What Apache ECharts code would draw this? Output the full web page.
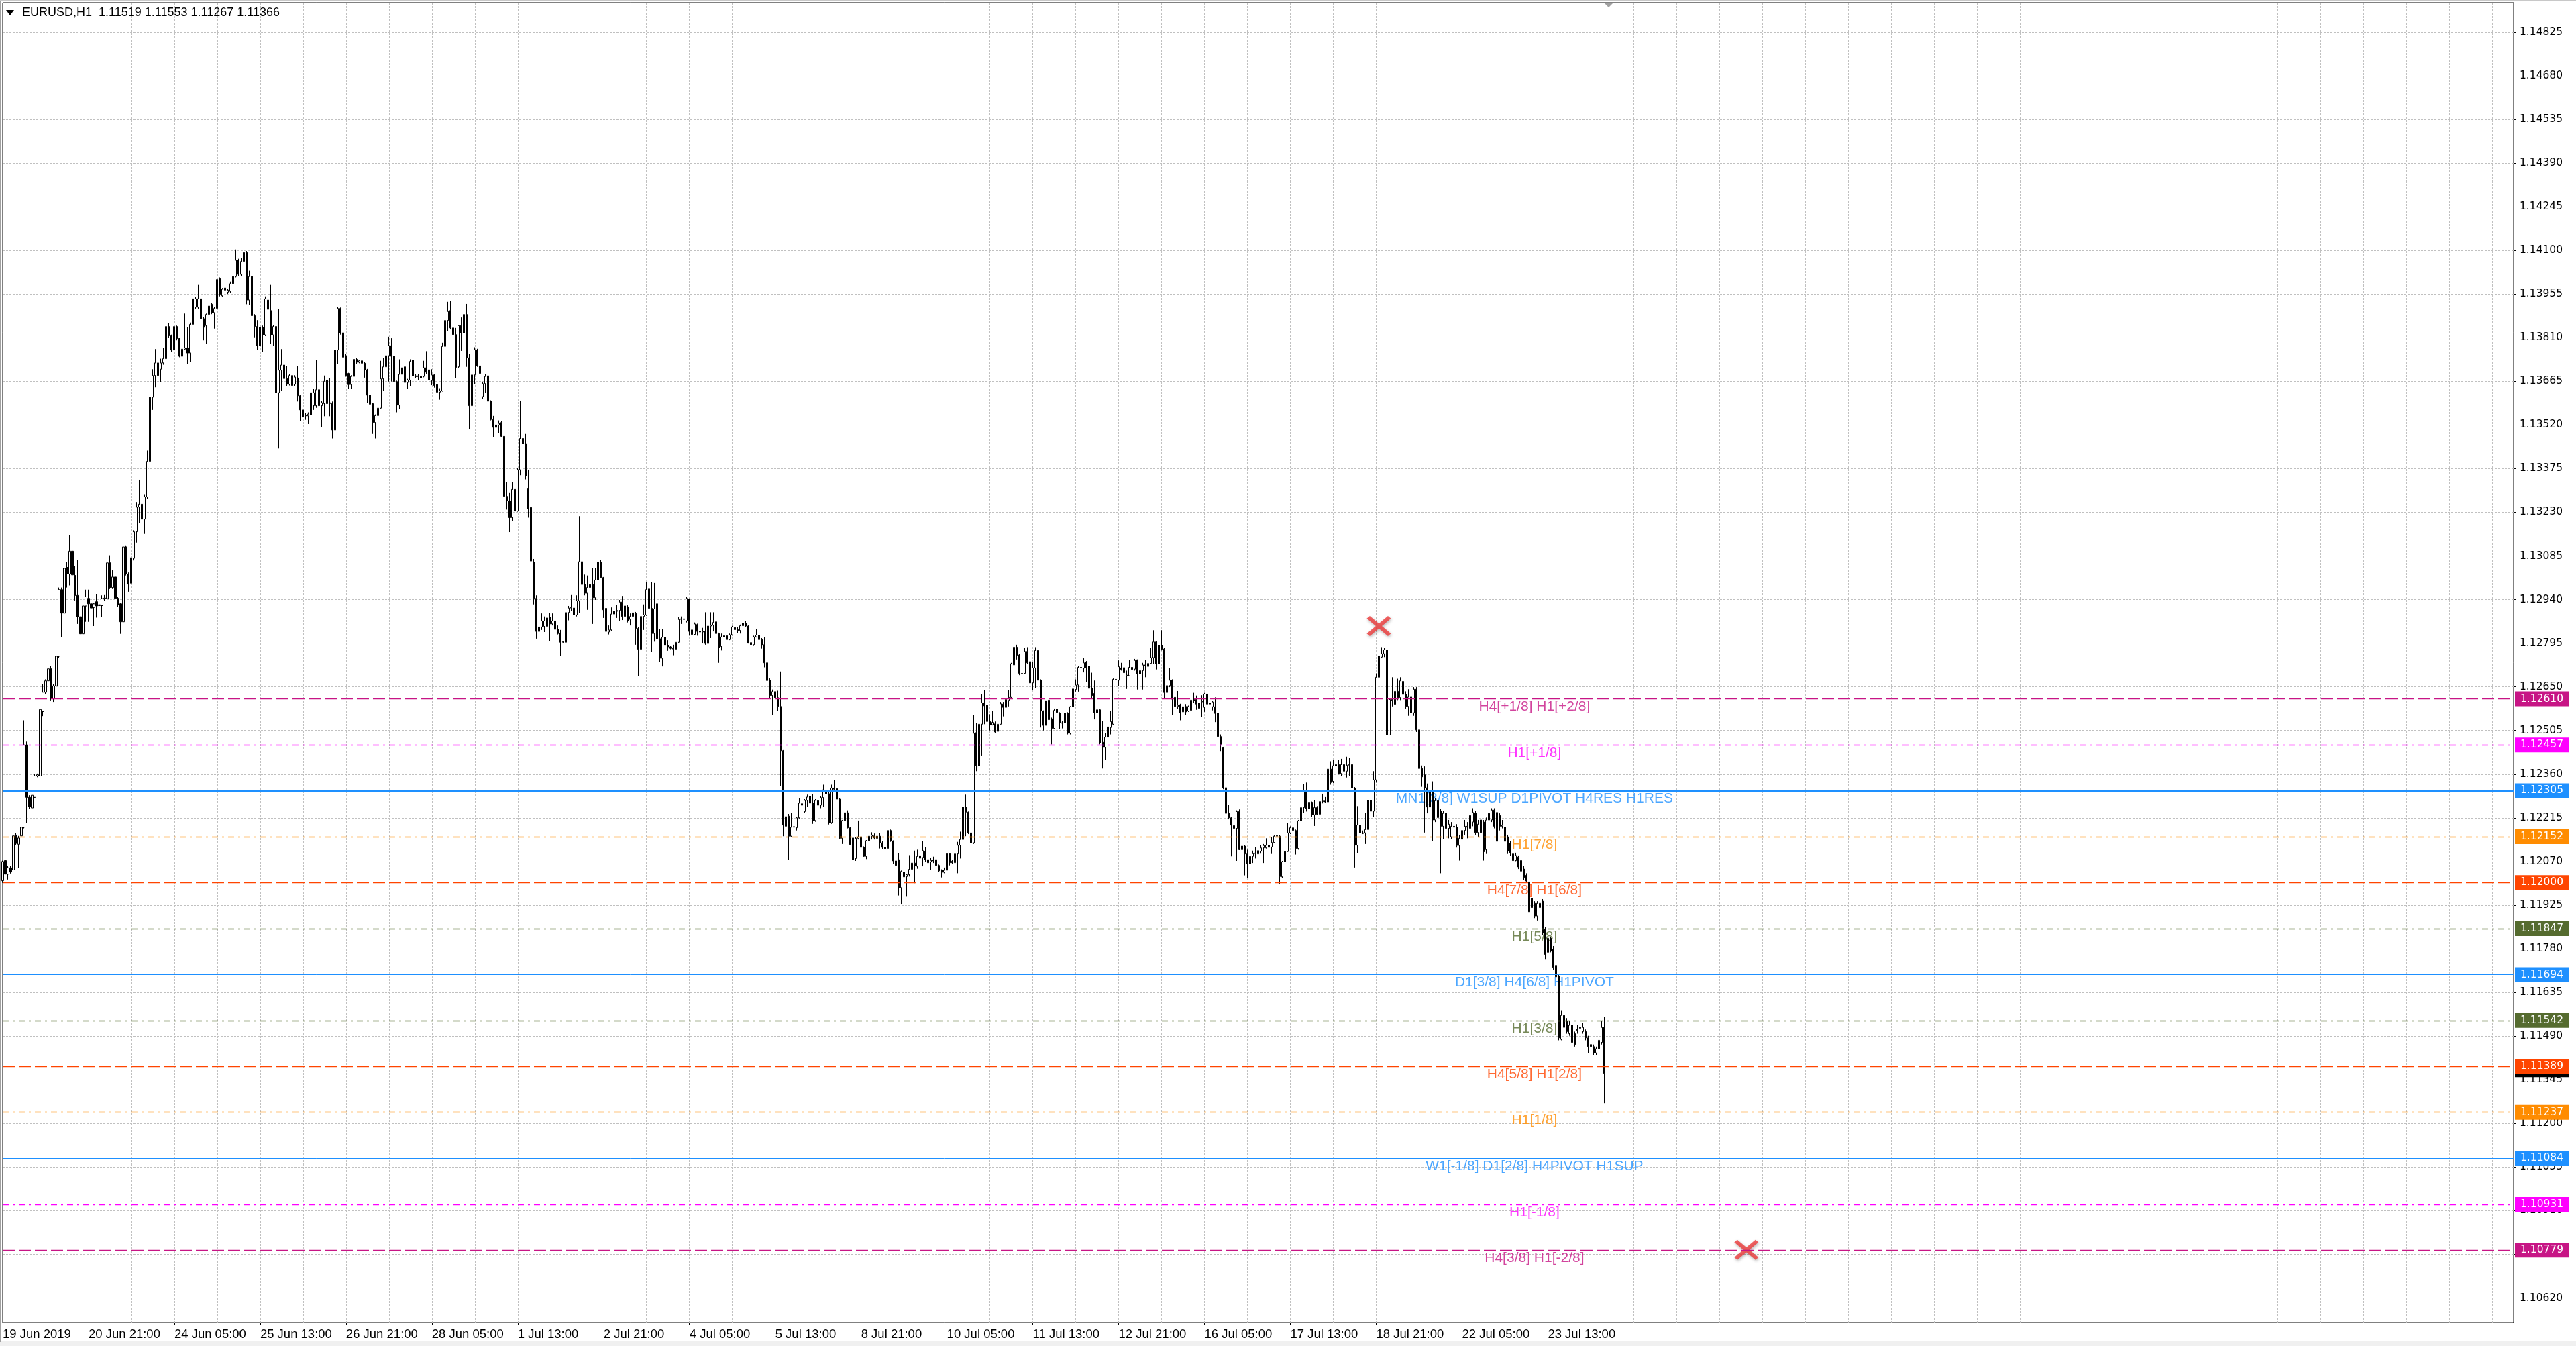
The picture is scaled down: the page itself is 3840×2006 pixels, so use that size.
<!DOCTYPE html>
<html>
<head>
<meta charset="utf-8">
<script src="https://cdn.jsdelivr.net/npm/echarts@6/dist/echarts.min.js"></script>
<style>
html,body{margin:0;padding:0;background:#ffffff;}
#c{width:3840px;height:2006px;}
</style>
</head>
<body>
<div id="c"></div>
<script>
// ---------- DATA ----------
const symbolName = 'EURUSD,H1';
const lastQuote = [1.11519, 1.11553, 1.11267, 1.11366]; // O H L C of last bar

const opens = [
1.12006,1.12073,1.12028,1.12049,1.12042,1.12158,1.12127,1.12155,1.12184,1.12457,
1.12283,1.12248,1.12283,1.12354,1.12354,1.12568,1.12632,1.12670,1.12710,1.12610,
1.12653,1.12752,1.12973,1.12895,1.13047,1.13025,1.13101,1.13020,1.12954,1.12883,
1.12826,1.12919,1.12944,1.12926,1.12914,1.12933,1.12920,1.12920,1.12943,1.12943,
1.13062,1.12980,1.13015,1.12944,1.12926,1.12866,1.13115,1.13025,1.12994,1.13077,
1.13165,1.13247,1.13257,1.13207,1.13281,1.13399,1.13612,1.13684,1.13726,1.13705,
1.13726,1.13740,1.13847,1.13816,1.13769,1.13847,1.13807,1.13748,1.13772,1.13776,
1.13759,1.13854,1.13911,1.13911,1.13939,1.13873,1.13850,1.13887,1.13921,1.13893,
1.13907,1.14006,1.13949,1.13975,1.13961,1.13964,1.13989,1.14013,1.14067,1.14020,
1.14063,1.14093,1.13935,1.14013,1.13883,1.13847,1.13783,1.13844,1.13819,1.13935,
1.13900,1.13819,1.13847,1.13627,1.13702,1.13719,1.13674,1.13655,1.13684,1.13655,
1.13676,1.13617,1.13570,1.13553,1.13550,1.13553,1.13584,1.13584,1.13637,1.13584,
1.13591,1.13669,1.13591,1.13591,1.13503,1.13769,1.13907,1.13826,1.13750,1.13691,
1.13654,1.13681,1.13738,1.13728,1.13733,1.13725,1.13703,1.13619,1.13591,1.13528,
1.13551,1.13576,1.13673,1.13713,1.13750,1.13783,1.13748,1.13664,1.13586,1.13688,
1.13713,1.13661,1.13669,1.13735,1.13683,1.13680,1.13676,1.13681,1.13710,1.13703,
1.13667,1.13686,1.13654,1.13629,1.13633,1.13781,1.13867,1.13900,1.13842,1.13820,
1.13713,1.13850,1.13825,1.13887,1.13743,1.13584,1.13686,1.13768,1.13716,1.13614,
1.13657,1.13683,1.13599,1.13538,1.13512,1.13520,1.13528,1.13482,1.13283,1.13268,
1.13212,1.13306,1.13234,1.13371,1.13475,1.13458,1.13308,1.13246,1.13065,1.12944,
1.12834,1.12849,1.12851,1.12851,1.12882,1.12859,1.12869,1.12841,1.12829,1.12798,
1.12798,1.12897,1.12912,1.12912,1.12889,1.12936,1.13066,1.12990,1.12961,1.12980,
1.12990,1.12946,1.13005,1.13065,1.13013,1.12911,1.12832,1.12839,1.12892,1.12901,
1.12904,1.12932,1.12884,1.12916,1.12874,1.12884,1.12894,1.12844,1.12775,1.12884,
1.12889,1.12975,1.12911,1.12827,1.12926,1.12810,1.12745,1.12815,1.12788,1.12783,
1.12778,1.12775,1.12798,1.12874,1.12876,1.12869,1.12942,1.12839,1.12824,1.12857,
1.12834,1.12832,1.12834,1.12794,1.12852,1.12855,1.12866,1.12827,1.12784,1.12816,
1.12820,1.12807,1.12823,1.12847,1.12840,1.12837,1.12853,1.12862,1.12852,1.12797,
1.12790,1.12816,1.12822,1.12807,1.12790,1.12730,1.12672,1.12621,1.12634,1.12614,
1.12585,1.12438,1.12187,1.12221,1.12154,1.12184,1.12182,1.12215,1.12262,1.12236,
1.12273,1.12286,1.12264,1.12206,1.12272,1.12257,1.12282,1.12306,1.12295,1.12199,
1.12314,1.12312,1.12277,1.12147,1.12206,1.12232,1.12182,1.12148,1.12080,1.12147,
1.12152,1.12117,1.12087,1.12139,1.12154,1.12155,1.12154,1.12154,1.12132,1.12117,
1.12113,1.12173,1.12138,1.12072,1.12076,1.11983,1.12035,1.12020,1.12026,1.12044,
1.12065,1.12054,1.12089,1.12083,1.12103,1.12076,1.12069,1.12074,1.12076,1.12057,
1.12041,1.12034,1.12041,1.12096,1.12071,1.12066,1.12095,1.12124,1.12143,1.12251,
1.12234,1.12165,1.12132,1.12498,1.12388,1.12526,1.12597,1.12590,1.12535,1.12524,
1.12527,1.12502,1.12526,1.12593,1.12582,1.12605,1.12615,1.12723,1.12782,1.12756,
1.12693,1.12695,1.12768,1.12734,1.12663,1.12713,1.12771,1.12672,1.12570,1.12522,
1.12606,1.12544,1.12512,1.12576,1.12563,1.12531,1.12530,1.12563,1.12496,1.12584,
1.12641,1.12656,1.12715,1.12712,1.12733,1.12719,1.12646,1.12628,1.12564,1.12574,
1.12466,1.12449,1.12483,1.12515,1.12526,1.12675,1.12672,1.12713,1.12714,1.12687,
1.12687,1.12715,1.12709,1.12740,1.12693,1.12704,1.12723,1.12718,1.12728,1.12747,
1.12799,1.12727,1.12788,1.12776,1.12631,1.12654,1.12672,1.12615,1.12585,1.12591,
1.12567,1.12585,1.12570,1.12572,1.12608,1.12608,1.12596,1.12600,1.12582,1.12626,
1.12593,1.12584,1.12584,1.12563,1.12485,1.12448,1.12315,1.12230,1.12215,1.12189,
1.12180,1.12236,1.12109,1.12121,1.12095,1.12063,1.12087,1.12096,1.12095,1.12104,
1.12115,1.12115,1.12124,1.12118,1.12133,1.12154,1.12154,1.12019,1.12069,1.12103,
1.12165,1.12173,1.12173,1.12113,1.12205,1.12249,1.12307,1.12245,1.12267,1.12225,
1.12249,1.12227,1.12269,1.12271,1.12268,1.12377,1.12336,1.12388,1.12392,1.12362,
1.12392,1.12370,1.12390,1.12392,1.12314,1.12124,1.12191,1.12165,1.12165,1.12176,
1.12273,1.12237,1.12341,1.12682,1.12749,1.12760,1.12773,1.12490,1.12608,1.12592,
1.12635,1.12614,1.12668,1.12625,1.12585,1.12616,1.12564,1.12642,1.12507,1.12379,
1.12358,1.12315,1.12251,1.12301,1.12208,1.12272,1.12237,1.12187,1.12230,1.12180,
1.12152,1.12187,1.12184,1.12123,1.12144,1.12173,1.12187,1.12180,1.12201,1.12230,
1.12166,1.12208,1.12201,1.12109,1.12208,1.12208,1.12241,1.12137,1.12223,1.12187,
1.12137,1.12152,1.12130,1.12095,1.12073,1.12085,1.12073,1.12045,1.12024,1.12002,
1.11948,1.11931,1.11889,1.11917,1.11938,1.11846,1.11768,1.11815,1.11778,1.11725,
1.11690,1.11479,1.11519,1.11540,1.11498,1.11526,1.11498,1.11512,1.11516,1.11505,
1.11505,1.11484,1.11455,1.11455,1.11434,1.11448,1.11469,1.11519
];

const highs = [
1.12073,1.12080,1.12055,1.12055,1.12162,1.12165,1.12155,1.12219,1.12539,1.12468,
1.12290,1.12295,1.12360,1.12362,1.12580,1.12660,1.12675,1.12724,1.12720,1.12660,
1.12838,1.12980,1.12980,1.13050,1.13065,1.13155,1.13158,1.13051,1.13072,1.12890,
1.12925,1.12973,1.12973,1.12976,1.12930,1.12959,1.12928,1.12954,1.12955,1.13065,
1.13087,1.13037,1.13030,1.12950,1.12930,1.13155,1.13120,1.13030,1.13085,1.13170,
1.13264,1.13338,1.13304,1.13290,1.13435,1.13620,1.13705,1.13772,1.13730,1.13740,
1.13776,1.13858,1.13858,1.13820,1.13850,1.13850,1.13810,1.13811,1.13890,1.13844,
1.13860,1.13949,1.13945,1.13985,1.13968,1.13878,1.13890,1.14003,1.13925,1.13912,
1.14039,1.14010,1.13975,1.13985,1.13972,1.13996,1.14018,1.14103,1.14072,1.14074,
1.14117,1.14098,1.14032,1.14032,1.13888,1.13868,1.13850,1.13850,1.13947,1.13975,
1.13985,1.13852,1.13852,1.13904,1.13772,1.13755,1.13716,1.13690,1.13698,1.13685,
1.13716,1.13620,1.13598,1.13560,1.13562,1.13634,1.13641,1.13736,1.13684,1.13600,
1.13684,1.13676,1.13676,1.13598,1.13819,1.13912,1.13910,1.13840,1.13755,1.13693,
1.13685,1.13766,1.13742,1.13736,1.13741,1.13728,1.13706,1.13622,1.13594,1.13555,
1.13580,1.13733,1.13743,1.13813,1.13813,1.13808,1.13751,1.13667,1.13738,1.13743,
1.13716,1.13673,1.13738,1.13738,1.13688,1.13688,1.13693,1.13733,1.13765,1.13723,
1.13705,1.13690,1.13667,1.13642,1.13793,1.13925,1.13929,1.13932,1.13882,1.13842,
1.13852,1.13877,1.13894,1.13922,1.13756,1.13690,1.13778,1.13773,1.13719,1.13661,
1.13688,1.13708,1.13602,1.13550,1.13532,1.13535,1.13533,1.13490,1.13331,1.13296,
1.13331,1.13341,1.13376,1.13601,1.13561,1.13490,1.13371,1.13251,1.13075,1.12954,
1.12874,1.12894,1.12884,1.12894,1.12896,1.12894,1.12879,1.12854,1.12839,1.12802,
1.12899,1.12919,1.12955,1.12993,1.12954,1.13217,1.13110,1.13023,1.13020,1.13030,
1.13045,1.13045,1.13120,1.13071,1.13015,1.12968,1.12854,1.12914,1.12919,1.12922,
1.12939,1.12952,1.12922,1.12921,1.12894,1.12904,1.12899,1.12849,1.12886,1.12924,
1.12998,1.12998,1.12998,1.12995,1.13123,1.12842,1.12842,1.12849,1.12805,1.12785,
1.12790,1.12800,1.12881,1.12884,1.12884,1.12949,1.12944,1.12844,1.12864,1.12860,
1.12849,1.12846,1.12898,1.12857,1.12898,1.12898,1.12886,1.12830,1.12827,1.12842,
1.12846,1.12827,1.12853,1.12853,1.12849,1.12857,1.12875,1.12869,1.12854,1.12842,
1.12820,1.12842,1.12825,1.12812,1.12816,1.12753,1.12678,1.12641,1.12678,1.12637,
1.12701,1.12440,1.12252,1.12228,1.12232,1.12195,1.12219,1.12280,1.12279,1.12277,
1.12292,1.12288,1.12294,1.12277,1.12280,1.12288,1.12325,1.12312,1.12306,1.12325,
1.12340,1.12321,1.12280,1.12208,1.12245,1.12240,1.12185,1.12187,1.12150,1.12206,
1.12167,1.12120,1.12141,1.12175,1.12167,1.12163,1.12184,1.12165,1.12138,1.12135,
1.12180,1.12176,1.12140,1.12075,1.12098,1.12040,1.12089,1.12029,1.12091,1.12096,
1.12106,1.12109,1.12106,1.12138,1.12118,1.12080,1.12083,1.12086,1.12087,1.12060,
1.12044,1.12050,1.12098,1.12098,1.12076,1.12098,1.12135,1.12169,1.12269,1.12292,
1.12236,1.12167,1.12556,1.12530,1.12570,1.12626,1.12639,1.12600,1.12559,1.12570,
1.12535,1.12567,1.12600,1.12600,1.12651,1.12639,1.12730,1.12805,1.12790,1.12760,
1.12712,1.12780,1.12782,1.12736,1.12734,1.12782,1.12857,1.12675,1.12572,1.12622,
1.12610,1.12548,1.12578,1.12609,1.12566,1.12536,1.12585,1.12566,1.12586,1.12645,
1.12675,1.12719,1.12734,1.12745,1.12736,1.12745,1.12697,1.12671,1.12596,1.12577,
1.12537,1.12496,1.12522,1.12570,1.12678,1.12697,1.12738,1.12730,1.12719,1.12704,
1.12740,1.12723,1.12743,1.12741,1.12719,1.12730,1.12740,1.12741,1.12779,1.12838,
1.12801,1.12812,1.12838,1.12779,1.12733,1.12712,1.12675,1.12618,1.12636,1.12594,
1.12587,1.12593,1.12588,1.12615,1.12630,1.12621,1.12630,1.12622,1.12630,1.12632,
1.12604,1.12604,1.12615,1.12566,1.12492,1.12451,1.12325,1.12258,1.12217,1.12228,
1.12240,1.12243,1.12139,1.12124,1.12109,1.12121,1.12106,1.12117,1.12108,1.12124,
1.12128,1.12147,1.12135,1.12150,1.12158,1.12170,1.12158,1.12072,1.12109,1.12199,
1.12187,1.12217,1.12176,1.12208,1.12269,1.12327,1.12332,1.12275,1.12269,1.12273,
1.12254,1.12288,1.12295,1.12284,1.12385,1.12403,1.12407,1.12414,1.12407,1.12411,
1.12438,1.12418,1.12414,1.12396,1.12317,1.12254,1.12247,1.12173,1.12232,1.12293,
1.12279,1.12370,1.12695,1.12801,1.12782,1.12779,1.12817,1.12611,1.12682,1.12649,
1.12677,1.12682,1.12673,1.12635,1.12642,1.12628,1.12649,1.12649,1.12514,1.12389,
1.12386,1.12329,1.12329,1.12336,1.12280,1.12280,1.12244,1.12237,1.12237,1.12208,
1.12201,1.12198,1.12194,1.12159,1.12180,1.12208,1.12201,1.12237,1.12247,1.12237,
1.12208,1.12216,1.12208,1.12216,1.12237,1.12247,1.12247,1.12244,1.12230,1.12208,
1.12194,1.12159,1.12137,1.12102,1.12099,1.12090,1.12080,1.12056,1.12031,1.12005,
1.11960,1.11938,1.11938,1.11953,1.11945,1.11853,1.11825,1.11820,1.11789,1.11732,
1.11697,1.11576,1.11573,1.11550,1.11540,1.11536,1.11505,1.11526,1.11547,1.11533,
1.11512,1.11491,1.11476,1.11462,1.11455,1.11484,1.11540,1.11553
];

const lows = [
1.11999,1.12020,1.12010,1.12030,1.12006,1.12125,1.12049,1.12150,1.12180,1.12198,
1.12245,1.12245,1.12280,1.12350,1.12350,1.12553,1.12625,1.12665,1.12605,1.12600,
1.12650,1.12745,1.12816,1.12859,1.12980,1.12987,1.12937,1.12937,1.12859,1.12703,
1.12812,1.12866,1.12866,1.12887,1.12852,1.12880,1.12910,1.12883,1.12935,1.12920,
1.12975,1.12975,1.12923,1.12915,1.12826,1.12845,1.13020,1.12966,1.12966,1.13070,
1.13129,1.13193,1.13082,1.13158,1.13275,1.13392,1.13570,1.13645,1.13662,1.13662,
1.13720,1.13705,1.13810,1.13762,1.13748,1.13801,1.13745,1.13745,1.13769,1.13722,
1.13730,1.13836,1.13905,1.13904,1.13811,1.13801,1.13790,1.13850,1.13888,1.13840,
1.13900,1.13947,1.13945,1.13958,1.13955,1.13958,1.13985,1.14010,1.14015,1.14015,
1.14053,1.13921,1.13918,1.13878,1.13811,1.13769,1.13776,1.13762,1.13815,1.13890,
1.13790,1.13783,1.13598,1.13442,1.13634,1.13615,1.13650,1.13651,1.13598,1.13650,
1.13598,1.13534,1.13527,1.13537,1.13523,1.13549,1.13570,1.13577,1.13541,1.13513,
1.13549,1.13584,1.13549,1.13475,1.13498,1.13722,1.13820,1.13740,1.13680,1.13641,
1.13641,1.13679,1.13723,1.13725,1.13686,1.13677,1.13594,1.13586,1.13490,1.13475,
1.13503,1.13572,1.13634,1.13664,1.13664,1.13664,1.13639,1.13562,1.13572,1.13619,
1.13629,1.13639,1.13649,1.13664,1.13676,1.13668,1.13673,1.13678,1.13690,1.13654,
1.13652,1.13644,1.13627,1.13604,1.13631,1.13780,1.13832,1.13837,1.13813,1.13675,
1.13710,1.13766,1.13756,1.13713,1.13505,1.13554,1.13656,1.13713,1.13664,1.13606,
1.13627,1.13597,1.13535,1.13480,1.13508,1.13492,1.13480,1.13215,1.13239,1.13164,
1.13202,1.13207,1.13232,1.13353,1.13440,1.13339,1.13212,1.13038,1.12924,1.12810,
1.12823,1.12839,1.12832,1.12849,1.12802,1.12854,1.12837,1.12824,1.12753,1.12795,
1.12778,1.12871,1.12902,1.12857,1.12884,1.12896,1.12966,1.12954,1.12906,1.12973,
1.12859,1.12939,1.13003,1.13011,1.12879,1.12823,1.12824,1.12836,1.12890,1.12879,
1.12869,1.12872,1.12866,1.12864,1.12854,1.12846,1.12790,1.12686,1.12767,1.12839,
1.12886,1.12879,1.12767,1.12800,1.12805,1.12733,1.12718,1.12780,1.12770,1.12775,
1.12755,1.12773,1.12795,1.12859,1.12846,1.12864,1.12820,1.12822,1.12822,1.12820,
1.12808,1.12794,1.12790,1.12768,1.12812,1.12834,1.12823,1.12730,1.12771,1.12790,
1.12805,1.12805,1.12820,1.12837,1.12829,1.12827,1.12851,1.12850,1.12794,1.12777,
1.12786,1.12814,1.12805,1.12777,1.12715,1.12667,1.12611,1.12556,1.12588,1.12570,
1.12321,1.12154,1.12072,1.12076,1.12152,1.12165,1.12173,1.12213,1.12254,1.12232,
1.12251,1.12262,1.12195,1.12202,1.12232,1.12247,1.12251,1.12292,1.12193,1.12195,
1.12306,1.12254,1.12145,1.12128,1.12124,1.12180,1.12124,1.12069,1.12072,1.12143,
1.12115,1.12086,1.12078,1.12137,1.12143,1.12143,1.12128,1.12113,1.12111,1.12106,
1.12104,1.12135,1.12061,1.12048,1.11957,1.11927,1.11998,1.11953,1.12020,1.12005,
1.11998,1.12046,1.11996,1.12054,1.12069,1.12029,1.12041,1.12065,1.12054,1.12036,
1.12017,1.12031,1.12020,1.12057,1.12061,1.12063,1.12031,1.12080,1.12141,1.12154,
1.12161,1.12117,1.12128,1.12370,1.12353,1.12422,1.12526,1.12522,1.12505,1.12522,
1.12496,1.12496,1.12525,1.12552,1.12578,1.12585,1.12612,1.12719,1.12741,1.12689,
1.12667,1.12693,1.12727,1.12661,1.12639,1.12645,1.12619,1.12515,1.12505,1.12511,
1.12451,1.12459,1.12511,1.12563,1.12511,1.12512,1.12526,1.12492,1.12492,1.12578,
1.12634,1.12634,1.12704,1.12698,1.12666,1.12615,1.12611,1.12542,1.12533,1.12459,
1.12379,1.12407,1.12437,1.12492,1.12524,1.12634,1.12652,1.12704,1.12675,1.12643,
1.12686,1.12682,1.12704,1.12641,1.12691,1.12641,1.12682,1.12698,1.12727,1.12727,
1.12708,1.12686,1.12771,1.12611,1.12622,1.12649,1.12556,1.12530,1.12576,1.12539,
1.12557,1.12556,1.12567,1.12570,1.12596,1.12574,1.12570,1.12550,1.12567,1.12585,
1.12582,1.12572,1.12533,1.12448,1.12437,1.12310,1.12173,1.12210,1.12087,1.12143,
1.12072,1.12108,1.12095,1.12024,1.12016,1.12039,1.12065,1.12080,1.12093,1.12096,
1.12065,1.12113,1.12076,1.12095,1.12130,1.12148,1.11994,1.12016,1.12063,1.12102,
1.12161,1.12169,1.12093,1.12109,1.12203,1.12232,1.12236,1.12225,1.12217,1.12188,
1.12224,1.12225,1.12263,1.12264,1.12252,1.12325,1.12330,1.12362,1.12359,1.12355,
1.12332,1.12349,1.12355,1.12310,1.12050,1.12098,1.12117,1.12161,1.12128,1.12154,
1.12225,1.12217,1.12332,1.12641,1.12745,1.12749,1.12399,1.12489,1.12585,1.12585,
1.12606,1.12606,1.12585,1.12578,1.12554,1.12554,1.12554,1.12500,1.12343,1.12318,
1.12166,1.12230,1.12201,1.12137,1.12201,1.12194,1.12031,1.12144,1.12130,1.12147,
1.12144,1.12152,1.12116,1.12073,1.12130,1.12159,1.12147,1.12159,1.12187,1.12159,
1.12152,1.12152,1.12073,1.12095,1.12187,1.12201,1.12180,1.12130,1.12173,1.12180,
1.12130,1.12095,1.12088,1.12066,1.12071,1.12045,1.12031,1.12009,1.11999,1.11896,
1.11910,1.11882,1.11874,1.11910,1.11825,1.11746,1.11761,1.11768,1.11711,1.11678,
1.11476,1.11476,1.11512,1.11498,1.11491,1.11462,1.11455,1.11498,1.11505,1.11498,
1.11476,1.11434,1.11448,1.11427,1.11427,1.11405,1.11462,1.11267
];

const closes = [
1.12070,1.12028,1.12049,1.12035,1.12155,1.12130,1.12148,1.12184,1.12457,1.12283,
1.12252,1.12290,1.12354,1.12358,1.12575,1.12632,1.12670,1.12710,1.12613,1.12653,
1.12752,1.12973,1.12895,1.13044,1.13025,1.13101,1.13022,1.12954,1.12883,1.12826,
1.12919,1.12949,1.12926,1.12912,1.12926,1.12919,1.12923,1.12943,1.12945,1.13062,
1.12980,1.13015,1.12944,1.12923,1.12866,1.13115,1.13025,1.12991,1.13079,1.13165,
1.13247,1.13257,1.13207,1.13281,1.13399,1.13612,1.13684,1.13726,1.13684,1.13726,
1.13740,1.13847,1.13816,1.13769,1.13847,1.13807,1.13748,1.13772,1.13776,1.13759,
1.13854,1.13939,1.13939,1.13939,1.13873,1.13844,1.13887,1.13915,1.13893,1.13907,
1.14003,1.13954,1.13971,1.13968,1.13968,1.13989,1.14013,1.14067,1.14020,1.14063,
1.14093,1.13935,1.14013,1.13883,1.13847,1.13783,1.13844,1.13819,1.13939,1.13904,
1.13819,1.13847,1.13627,1.13702,1.13719,1.13674,1.13655,1.13684,1.13651,1.13679,
1.13617,1.13570,1.13546,1.13550,1.13556,1.13627,1.13627,1.13637,1.13584,1.13594,
1.13665,1.13591,1.13594,1.13503,1.13769,1.13907,1.13826,1.13745,1.13684,1.13654,
1.13681,1.13738,1.13728,1.13733,1.13725,1.13703,1.13619,1.13589,1.13528,1.13551,
1.13576,1.13673,1.13713,1.13750,1.13783,1.13748,1.13664,1.13586,1.13688,1.13710,
1.13661,1.13669,1.13731,1.13683,1.13680,1.13683,1.13681,1.13710,1.13695,1.13669,
1.13686,1.13651,1.13629,1.13633,1.13781,1.13867,1.13897,1.13842,1.13820,1.13711,
1.13850,1.13825,1.13887,1.13743,1.13584,1.13686,1.13770,1.13716,1.13691,1.13657,
1.13681,1.13599,1.13538,1.13512,1.13520,1.13525,1.13482,1.13283,1.13268,1.13212,
1.13306,1.13234,1.13371,1.13475,1.13458,1.13351,1.13241,1.13068,1.12944,1.12834,
1.12849,1.12869,1.12869,1.12879,1.12859,1.12869,1.12841,1.12827,1.12798,1.12800,
1.12897,1.12912,1.12914,1.12889,1.12936,1.13066,1.12990,1.12961,1.12980,1.12990,
1.12946,1.13005,1.13065,1.13013,1.12906,1.12834,1.12839,1.12892,1.12901,1.12904,
1.12932,1.12884,1.12919,1.12869,1.12884,1.12896,1.12844,1.12775,1.12884,1.12889,
1.12973,1.12911,1.12827,1.12909,1.12810,1.12745,1.12815,1.12788,1.12783,1.12778,
1.12776,1.12798,1.12874,1.12876,1.12874,1.12944,1.12834,1.12824,1.12859,1.12834,
1.12832,1.12834,1.12794,1.12852,1.12855,1.12864,1.12827,1.12780,1.12816,1.12820,
1.12807,1.12823,1.12849,1.12840,1.12837,1.12853,1.12862,1.12852,1.12795,1.12790,
1.12816,1.12822,1.12807,1.12788,1.12730,1.12671,1.12621,1.12634,1.12614,1.12585,
1.12438,1.12191,1.12219,1.12154,1.12184,1.12186,1.12215,1.12264,1.12257,1.12273,
1.12284,1.12264,1.12205,1.12273,1.12257,1.12282,1.12308,1.12295,1.12199,1.12314,
1.12310,1.12277,1.12147,1.12206,1.12232,1.12182,1.12126,1.12076,1.12147,1.12152,
1.12117,1.12087,1.12139,1.12154,1.12158,1.12148,1.12147,1.12132,1.12117,1.12111,
1.12173,1.12138,1.12072,1.12057,1.11983,1.12037,1.12019,1.12026,1.12044,1.12065,
1.12056,1.12087,1.12081,1.12106,1.12076,1.12066,1.12074,1.12072,1.12057,1.12039,
1.12034,1.12041,1.12096,1.12066,1.12066,1.12095,1.12124,1.12143,1.12251,1.12234,
1.12165,1.12132,1.12496,1.12388,1.12526,1.12597,1.12587,1.12535,1.12524,1.12532,
1.12500,1.12526,1.12594,1.12582,1.12608,1.12615,1.12727,1.12782,1.12755,1.12695,
1.12695,1.12768,1.12730,1.12663,1.12713,1.12771,1.12672,1.12570,1.12522,1.12604,
1.12541,1.12512,1.12572,1.12565,1.12531,1.12529,1.12563,1.12496,1.12584,1.12643,
1.12656,1.12715,1.12714,1.12730,1.12713,1.12645,1.12621,1.12564,1.12574,1.12464,
1.12449,1.12483,1.12517,1.12535,1.12675,1.12673,1.12717,1.12708,1.12697,1.12689,
1.12715,1.12708,1.12738,1.12693,1.12704,1.12723,1.12721,1.12728,1.12747,1.12799,
1.12727,1.12788,1.12775,1.12631,1.12654,1.12672,1.12609,1.12585,1.12589,1.12564,
1.12584,1.12567,1.12585,1.12606,1.12604,1.12593,1.12579,1.12602,1.12626,1.12593,
1.12596,1.12600,1.12562,1.12485,1.12459,1.12314,1.12230,1.12215,1.12191,1.12180,
1.12236,1.12109,1.12121,1.12095,1.12063,1.12087,1.12096,1.12098,1.12106,1.12115,
1.12123,1.12124,1.12117,1.12133,1.12154,1.12156,1.12020,1.12069,1.12103,1.12165,
1.12182,1.12182,1.12113,1.12205,1.12249,1.12304,1.12245,1.12267,1.12225,1.12249,
1.12227,1.12269,1.12271,1.12268,1.12377,1.12332,1.12388,1.12392,1.12362,1.12392,
1.12370,1.12390,1.12392,1.12314,1.12124,1.12191,1.12165,1.12163,1.12176,1.12273,
1.12237,1.12341,1.12682,1.12753,1.12760,1.12773,1.12490,1.12608,1.12605,1.12635,
1.12614,1.12670,1.12625,1.12585,1.12616,1.12564,1.12642,1.12507,1.12379,1.12351,
1.12315,1.12251,1.12301,1.12208,1.12272,1.12216,1.12187,1.12230,1.12180,1.12194,
1.12187,1.12184,1.12123,1.12147,1.12173,1.12187,1.12184,1.12223,1.12233,1.12166,
1.12194,1.12166,1.12102,1.12208,1.12230,1.12241,1.12187,1.12233,1.12187,1.12190,
1.12184,1.12105,1.12099,1.12073,1.12090,1.12052,1.12038,1.12017,1.12005,1.11903,
1.11917,1.11889,1.11931,1.11931,1.11832,1.11761,1.11815,1.11772,1.11718,1.11687,
1.11484,1.11559,1.11559,1.11505,1.11526,1.11469,1.11462,1.11509,1.11519,1.11519,
1.11484,1.11455,1.11462,1.11434,1.11448,1.11476,1.11519,1.11366
];

// price axis tick labels
const priceTicks = [
1.10620,1.10765,1.10910,1.11055,1.11200,1.11345,1.11490,1.11635,1.11780,1.11925,
1.12070,1.12215,1.12360,1.12505,1.12650,1.12795,1.12940,1.13085,1.13230,1.13375,
1.13520,1.13665,1.13810,1.13955,1.14100,1.14245,1.14390,1.14535,1.14680,1.14825
];

// level lines (top to bottom)
const levelPrices = [1.12610,1.12457,1.12305,1.12152,1.12000,1.11847,1.11694,1.11542,1.11389,1.11237,1.11084,1.10931,1.10779];
const levelTexts = [
'H4[+1/8] H1[+2/8]','H1[+1/8]','MN1[3/8] W1SUP D1PIVOT H4RES H1RES','H1[7/8]','H4[7/8] H1[6/8]',
'H1[5/8]','D1[3/8] H4[6/8] H1PIVOT','H1[3/8]','H4[5/8] H1[2/8]','H1[1/8]',
'W1[-1/8] D1[2/8] H4PIVOT H1SUP','H1[-1/8]','H4[3/8] H1[-2/8]'
];
const levelColors = ['#C71585','#FF00FF','#1E90FF','#FF8C00','#FF4500','#556B2F','#1E90FF','#556B2F','#FF4500','#FF8C00','#1E90FF','#FF00FF','#C71585'];
const levelStyles = ['dash','dashdot','solid','dashdot','dash','dashdot','solid','dashdot','dash','dashdot','solid','dashdot','dash'];
const levelWidths = [1.3,1.3,2,1.3,1.3,1.3,1,1.3,1.3,1.3,1,1.3,1.3];

const bidPrice = 1.11366;
const crossBars = [513, 650];
const crossPrices = [1.12852, 1.10780];

// ---------- VIEW SETTINGS ----------
const totalSlots = 937;       // visible bar slots incl. chart shift
const labelBar = 571;         // bar slot where level captions are centred
const yMin = 1.105386, yMax = 1.149226;

// hourly bar times (weekdays only) starting 19 Jun 2019 13:00
const MON = ['Jan','Feb','Mar','Apr','May','Jun','Jul','Aug','Sep','Oct','Nov','Dec'];
const times = [];
(function(){
  let t = Date.UTC(2019, 5, 19, 13);
  while (times.length < totalSlots) {
    const d = new Date(t);
    const wd = d.getUTCDay();
    if (wd !== 0 && wd !== 6) {
      const hh = String(d.getUTCHours()).padStart(2,'0');
      times.push(d.getUTCDate() + ' ' + MON[d.getUTCMonth()] + ' ' + d.getUTCFullYear() + ' ' + hh + ':00');
    }
    t += 3600000;
  }
})();

const nBars = opens.length;
const candleData = opens.map((o, i) => [o, closes[i], lows[i], highs[i]]);
const dashMap = { dash: [18, 6], dashdot: [9, 6, 3, 6], solid: 'solid' };
const labelEvery = (i) => i % 32 === 0 && i < nBars;

const markData = [{
  yAxis: bidPrice,
  lineStyle: { color: '#C0C0C0', type: 'solid', width: 1 },
  label: { show: true, position: 'end', distance: 2, formatter: ' ', fontSize: 1, lineHeight: 1,
           backgroundColor: '#000000', padding: [2, 40, 2, 40], offset: [0, 3] }
}].concat(levelPrices.map((p, k) => ({
  yAxis: p,
  lineStyle: { color: levelColors[k], type: dashMap[levelStyles[k]], width: levelWidths[k] },
  label: { show: true, position: 'end', distance: 2, formatter: p.toFixed(5), color: '#ffffff',
           backgroundColor: levelColors[k], padding: [3, 8, 3, 8], fontFamily: 'DejaVu Sans',
           fontSize: 15.5, lineHeight: 16 }
})));

const headerText = symbolName + '  ' + lastQuote.map(v => v.toFixed(5)).join(' ');

const chart = echarts.init(document.getElementById('c'), null, { renderer: 'canvas', width: 3840, height: 2006 });
chart.setOption({
  animation: false,
  backgroundColor: '#ffffff',
  grid: { left: 4, right: 93, top: 4, bottom: 35, show: true, borderColor: '#000000', borderWidth: 1,
          backgroundColor: 'transparent', containLabel: false, outerBoundsMode: 'none' },
  xAxis: {
    type: 'category', data: times, boundaryGap: false,
    axisLine: { show: true, lineStyle: { color: '#000000', width: 1 } },
    axisTick: { show: true, interval: labelEvery, length: 4, lineStyle: { color: '#000000' } },
    axisLabel: {
      show: true, interval: labelEvery, align: 'left', margin: 8, color: '#000000',
      fontFamily: 'Liberation Sans', fontSize: 18.5,
      formatter: (v, i) => { const p = v.split(' '); return i === 0 ? p[0] + ' ' + p[1] + ' ' + p[2] : p[0] + ' ' + p[1] + ' ' + p[3]; }
    },
    splitLine: { show: true, interval: (i) => i % 16 === 0, lineStyle: { color: '#C0C0C0', type: [3, 2], width: 1 } }
  },
  yAxis: {
    type: 'value', position: 'right', min: yMin, max: yMax,
    axisLine: { show: true, lineStyle: { color: '#000000', width: 1 } },
    axisTick: { show: true, length: 4, customValues: priceTicks, lineStyle: { color: '#000000' } },
    axisLabel: { show: true, customValues: priceTicks, formatter: (v) => v.toFixed(5), color: '#000000',
                 fontFamily: 'DejaVu Sans', fontSize: 15.5, margin: 9 },
    splitLine: { show: true, lineStyle: { color: '#C0C0C0', type: [3, 2], width: 1 } }
  },
  series: [
    {
      type: 'line', data: [], z: 1, silent: true,
      markLine: { silent: true, precision: 5, symbol: ['none', 'none'], animation: false, data: markData }
    },
    {
      type: 'scatter', z: 2, silent: true, symbolSize: 1, itemStyle: { color: 'rgba(0,0,0,0)' },
      label: { show: true, position: 'inside', offset: [0, 12], fontFamily: 'Liberation Sans', fontSize: 21 },
      data: levelPrices.map((p, k) => ({ value: [labelBar, p], label: { formatter: levelTexts[k], color: levelColors[k] } }))
    },
    {
      type: 'candlestick', z: 3, data: candleData, barWidth: 2.6, silent: true,
      itemStyle: { color: '#ffffff', color0: '#000000', borderColor: '#000000', borderColor0: '#000000',
                   borderColorDoji: '#000000', borderWidth: 1 }
    },
    {
      type: 'scatter', z: 4, silent: true,
      symbol: 'path://M0,3 L3,0 L12,9 L21,0 L24,3 L15,12 L24,21 L21,24 L12,15 L3,24 L0,21 L9,12 Z',
      symbolSize: [36, 30],
      itemStyle: { color: '#EE3B3B', shadowBlur: 4, shadowColor: 'rgba(0,0,0,0.35)', shadowOffsetX: 1, shadowOffsetY: 2 },
      data: crossBars.map((b, k) => [b, crossPrices[k]])
    }
  ],
  graphic: [
    { type: 'rect', shape: { x: 0, y: 1999, width: 3840, height: 7 }, style: { fill: '#F0F0F0' }, z: 0 },
    { type: 'rect', shape: { x: 0, y: 0, width: 2, height: 2000 }, style: { fill: '#A0A0A0' }, z: 0 },
    { type: 'rect', shape: { x: 0, y: 0, width: 3840, height: 1 }, style: { fill: '#C8C8C8' }, z: 0 },
    { type: 'polygon', shape: { points: [[9, 15], [21, 15], [15, 23]] }, style: { fill: '#000000' }, z: 10 },
    { type: 'text', x: 33, y: 19, style: { text: headerText, fontFamily: 'Liberation Sans', fontSize: 18, fill: '#000000', verticalAlign: 'middle' }, z: 10 },
    { type: 'polygon', shape: { points: [[2391, 4], [2405, 4], [2398, 11]] }, style: { fill: '#A0A0A0' }, z: 10 }
  ]
});
</script>
</body>
</html>
